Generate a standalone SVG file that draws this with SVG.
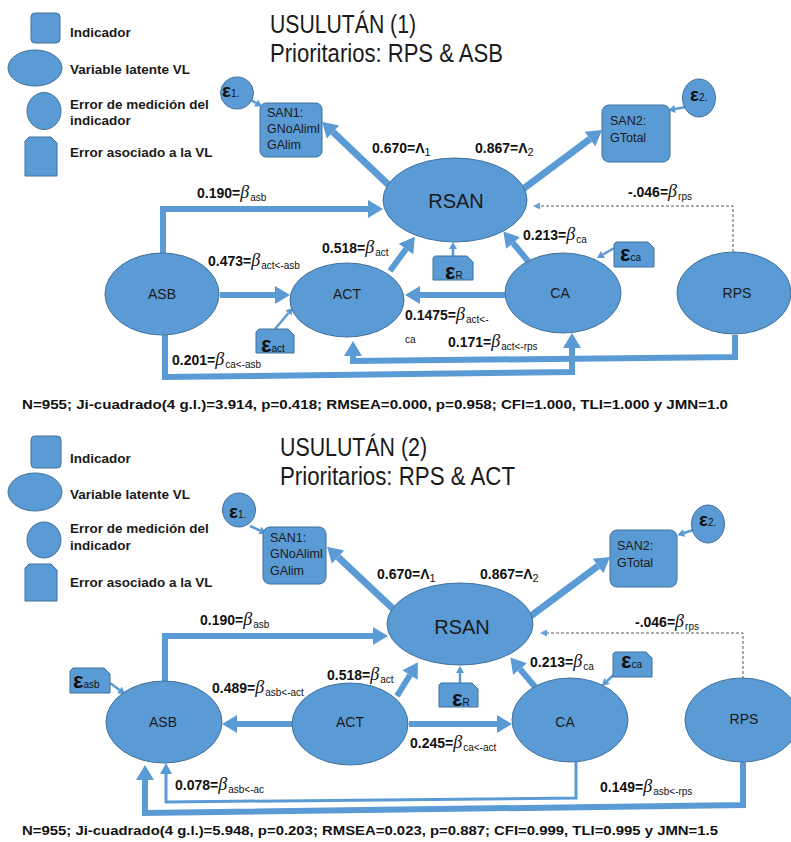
<svg xmlns="http://www.w3.org/2000/svg" width="791" height="842" viewBox="0 0 791 842">
<style>
  .nd{fill:#5B9BD5;stroke:#41719C;stroke-width:1}
  .ln{fill:none;stroke:#5B9BD5;stroke-width:6;stroke-linejoin:miter}
  .lw{fill:none;stroke:#5B9BD5;stroke-width:7}
  .lm{fill:none;stroke:#5B9BD5;stroke-width:3}
  .ls{fill:none;stroke:#5B9BD5;stroke-width:2.5}
  .ld{fill:none;stroke:#595959;stroke-width:1;stroke-dasharray:3 2}
  .tt{font-family:"Liberation Sans",Arial,sans-serif;font-size:25px;fill:#1a1a1a}
  .lg{font-family:"Liberation Sans",Arial,sans-serif;font-size:13.5px;font-weight:bold;fill:#1a1a1a}
  .lab{font-family:"Liberation Sans",Arial,sans-serif;font-size:14px;font-weight:bold;fill:#111}
  .bt{font-family:"Liberation Serif","Times New Roman",serif;font-size:18px;font-style:italic;font-weight:normal}
  .sb{font-size:10px;font-weight:normal}
  .sl{font-size:11px;font-weight:normal}
  .bx{font-family:"Liberation Sans",Arial,sans-serif;font-size:12.5px;fill:#1a1a1a}
  .nm{font-family:"Liberation Sans",Arial,sans-serif;font-size:14px;fill:#1a1a1a;text-anchor:middle}
  .big{font-family:"Liberation Sans",Arial,sans-serif;font-size:20px;fill:#1a1a1a;text-anchor:middle}
  .ep{font-family:"Liberation Sans",Arial,sans-serif;font-size:22px;font-weight:bold;fill:#111}
  .ec{font-family:"Liberation Sans",Arial,sans-serif;font-size:19px;font-weight:bold;fill:#111}
  .es{font-size:10px;font-weight:normal}
  .ft{font-family:"Liberation Sans",Arial,sans-serif;font-size:13.5px;font-weight:bold;fill:#111}
</style>
<defs>
  <marker id="ah" markerUnits="userSpaceOnUse" markerWidth="18" markerHeight="22" viewBox="0 -11 18 22" refX="0" refY="0" orient="auto" overflow="visible">
    <path d="M0,-9 L15,0 L0,9 z" fill="#5B9BD5"/>
  </marker>
  <marker id="am" markerUnits="userSpaceOnUse" markerWidth="14" markerHeight="16" viewBox="0 -8 14 16" refX="0" refY="0" orient="auto" overflow="visible">
    <path d="M0,-6 L11,0 L0,6 z" fill="#5B9BD5"/>
  </marker>
  <marker id="as" markerUnits="userSpaceOnUse" markerWidth="10" markerHeight="10" viewBox="0 -5 10 10" refX="0" refY="0" orient="auto" overflow="visible">
    <path d="M0,-4 L7,0 L0,4 z" fill="#5B9BD5"/>
  </marker>
  <marker id="ad" markerUnits="userSpaceOnUse" markerWidth="10" markerHeight="10" viewBox="0 -5 10 10" refX="0" refY="0" orient="auto" overflow="visible">
    <path d="M0,-3.5 L7,0 L0,3.5 z" fill="#6A9FD8"/>
  </marker>
</defs>
<rect width="791" height="842" fill="#fff"/>

<!-- ===== Model 1 ===== -->
<g id="legend-1">
  <rect class="nd" x="31" y="13" width="29" height="30" rx="4"/>
  <text class="lg" x="70" y="37">Indicador</text>
  <ellipse class="nd" cx="35" cy="68" rx="27" ry="18"/>
  <text class="lg" x="70" y="74">Variable latente VL</text>
  <ellipse class="nd" cx="44" cy="111" rx="17" ry="18.5"/>
  <text class="lg" x="70" y="109">Error de medición del</text>
  <text class="lg" x="70" y="125">indicador</text>
  <path class="nd" d="M25,141 L29,137 H51 L57,143 V176 H25 Z"/>
  <text class="lg" x="70" y="157">Error asociado a la VL</text>
</g>
<g id="title-1">
  <text class="tt" x="270" y="33" textLength="146" lengthAdjust="spacingAndGlyphs">USULUTÁN (1)</text>
  <text class="tt" x="270" y="62" textLength="233" lengthAdjust="spacingAndGlyphs">Prioritarios: RPS &amp; ASB</text>
</g>

<g id="connectors-1">
  <path class="ln" d="M163,253 V209 H368" marker-end="url(#ah)"/>
  <path class="ln" d="M220,295 H275" marker-end="url(#ah)"/>
  <path class="ln" d="M390,271 L406,249" marker-end="url(#ah)"/>
  <path class="ln" d="M528,261 L513,243" marker-end="url(#ah)"/>
  <path class="ln" d="M505,295 H420" marker-end="url(#ah)"/>
  <path class="lw" d="M395,191 L333,132" marker-end="url(#ah)"/>
  <path class="lw" d="M515,195 L590,139" marker-end="url(#ah)"/>
  <path class="ls" d="M247,98 L256,103" marker-end="url(#as)"/>
  <path class="ls" d="M686,107 L675,109" marker-end="url(#as)"/>
  <path class="ls" d="M453,256 V249" marker-end="url(#as)"/>
  <path class="ls" d="M275,329 L288.5,313" marker-end="url(#as)"/>
  <path class="ls" d="M616,247 L603,254.5" marker-end="url(#as)"/>
  <path class="ld" d="M733,252 V206 H540" marker-end="url(#ad)"/>
  <path class="ln" d="M165,335 V377 L572,372 V348" marker-end="url(#ah)"/>
  <path class="ln" d="M735,335 V357 L353,361 V356" marker-end="url(#ah)"/>
</g>

<g id="RSAN-1"><ellipse class="nd" cx="455" cy="200" rx="72" ry="42"/><text class="big" x="456" y="208">RSAN</text></g>
<g id="SAN1-1"><rect class="nd" x="260" y="103" width="62" height="54" rx="6"/>
  <text class="bx" x="267" y="117">SAN1:</text><text class="bx" x="267" y="133">GNoAliml</text><text class="bx" x="267" y="149">GAlim</text></g>
<g id="SAN2-1"><rect class="nd" x="602" y="105" width="68" height="57" rx="7"/>
  <text class="bx" x="610" y="125">SAN2:</text><text class="bx" x="610" y="142">GTotal</text></g>
<g id="e1-1"><ellipse class="nd" cx="237" cy="93" rx="16.5" ry="16"/><text class="ec" x="222" y="97">ε<tspan class="es">1.</tspan></text></g>
<g id="e2-1"><ellipse class="nd" cx="699" cy="98" rx="16.5" ry="19"/><text class="ec" x="690" y="101">ε<tspan class="es">2.</tspan></text></g>
<g id="ASB-1"><ellipse class="nd" cx="162" cy="294" rx="57" ry="41"/><text class="nm" x="162" y="299">ASB</text></g>
<g id="ACT-1"><ellipse class="nd" cx="347" cy="300" rx="57" ry="37"/><text class="nm" x="347" y="299">ACT</text></g>
<g id="CA-1"><ellipse class="nd" cx="563" cy="293" rx="58" ry="40"/><text class="nm" x="560" y="298">CA</text></g>
<g id="RPS-1"><ellipse class="nd" cx="734" cy="293" rx="57" ry="41"/><text class="nm" x="737" y="298">RPS</text></g>
<g id="eR-1"><path class="nd" d="M433,258 L435,256 H467 L473,262 V280 H433 Z"/><text class="ep" x="445" y="279">ε<tspan class="es">R</tspan></text></g>
<g id="eact-1"><path class="nd" d="M256,332 L259,329 H288 L294,335 V353 H256 Z"/><text class="ep" x="261" y="352">ε<tspan class="es">act</tspan></text></g>
<g id="eca-1"><path class="nd" d="M614,244 L616,242 H648 L654,248 V267 H614 Z"/><text class="ep" x="620" y="261">ε<tspan class="es">ca</tspan></text></g>

<g id="labels-1">
  <text class="lab" x="372" y="153">0.670=Λ<tspan class="sl" dy="3">1</tspan></text>
  <text class="lab" x="475" y="153">0.867=Λ<tspan class="sl" dy="3">2</tspan></text>
  <text class="lab" x="197" y="198">0.190=<tspan class="bt">β</tspan><tspan class="sb" dy="3" dx="1">asb</tspan></text>
  <text class="lab" x="208" y="266">0.473=<tspan class="bt">β</tspan><tspan class="sb" dy="3" dx="1">act&lt;-asb</tspan></text>
  <text class="lab" x="322" y="253">0.518=<tspan class="bt">β</tspan><tspan class="sb" dy="3" dx="1">act</tspan></text>
  <text class="lab" x="523" y="240">0.213=<tspan class="bt">β</tspan><tspan class="sb" dy="3" dx="1">ca</tspan></text>
  <text class="lab" x="628" y="197">-.046=<tspan class="bt">β</tspan><tspan class="sb" dy="3" dx="1">rps</tspan></text>
  <text class="lab" x="405" y="320">0.1475=<tspan class="bt">β</tspan><tspan class="sb" dy="3" dx="1">act&lt;-</tspan></text>
  <text class="lab sb" x="405" y="343">ca</text>
  <text class="lab" x="448" y="347">0.171=<tspan class="bt">β</tspan><tspan class="sb" dy="3" dx="1">act&lt;-rps</tspan></text>
  <text class="lab" x="172" y="365">0.201=<tspan class="bt">β</tspan><tspan class="sb" dy="3" dx="1">ca&lt;-asb</tspan></text>
</g>
<text class="ft" x="22" y="409" textLength="706" lengthAdjust="spacingAndGlyphs">N=955; Ji-cuadrado(4 g.l.)=3.914, p=0.418; RMSEA=0.000, p=0.958; CFI=1.000, TLI=1.000 y JMN=1.0</text>

<!-- ===== Model 2 ===== -->
<g id="legend-2">
  <rect class="nd" x="31" y="436" width="30" height="32" rx="4"/>
  <text class="lg" x="70" y="463">Indicador</text>
  <ellipse class="nd" cx="35" cy="492" rx="27" ry="19"/>
  <text class="lg" x="70" y="499">Variable latente VL</text>
  <ellipse class="nd" cx="44" cy="540" rx="17" ry="18"/>
  <text class="lg" x="70" y="533">Error de medición del</text>
  <text class="lg" x="70" y="550">indicador</text>
  <path class="nd" d="M25,568 L29,564 H51 L57,570 V601 H25 Z"/>
  <text class="lg" x="70" y="587">Error asociado a la VL</text>
</g>
<g id="title-2">
  <text class="tt" x="280" y="456" textLength="147" lengthAdjust="spacingAndGlyphs">USULUTÁN (2)</text>
  <text class="tt" x="280" y="485" textLength="235" lengthAdjust="spacingAndGlyphs">Prioritarios: RPS &amp; ACT</text>
</g>

<g id="connectors-2">
  <path class="lw" d="M405,620 L338,557" marker-end="url(#ah)"/>
  <path class="lw" d="M520,624 L598,566" marker-end="url(#ah)"/>
  <path class="ls" d="M250,526 L260,530.5" marker-end="url(#as)"/>
  <path class="ls" d="M693,530 L684,533" marker-end="url(#as)"/>
  <path class="ln" d="M165,682 V636 H373" marker-end="url(#ah)"/>
  <path class="ln" d="M292,724 H237" marker-end="url(#ah)"/>
  <path class="ln" d="M397,696 L410,675" marker-end="url(#ah)"/>
  <path class="ln" d="M409,724 H497" marker-end="url(#ah)"/>
  <path class="ln" d="M536,688 L520,669" marker-end="url(#ah)"/>
  <path class="ls" d="M460,683 V673" marker-end="url(#as)"/>
  <path class="ls" d="M617,672 L607,681" marker-end="url(#as)"/>
  <path class="ls" d="M110,683 L119.5,690" marker-end="url(#as)"/>
  <path class="ld" d="M743,679 V633 H547" marker-end="url(#ad)"/>
  <path class="lm" d="M576,762 V798 L166,802 V774" marker-end="url(#am)"/>
  <path class="ln" d="M743,762 V805 L145,813 V780" marker-end="url(#ah)"/>
</g>

<g id="RSAN-2"><ellipse class="nd" cx="460" cy="624" rx="73" ry="41"/><text class="big" x="462" y="634">RSAN</text></g>
<g id="SAN1-2"><rect class="nd" x="263" y="527" width="63" height="57" rx="7"/>
  <text class="bx" x="270" y="542">SAN1:</text><text class="bx" x="270" y="558">GNoAliml</text><text class="bx" x="270" y="575">GAlim</text></g>
<g id="SAN2-2"><rect class="nd" x="610" y="530" width="67" height="57" rx="7"/>
  <text class="bx" x="617" y="550">SAN2:</text><text class="bx" x="617" y="567">GTotal</text></g>
<g id="e1-2"><ellipse class="nd" cx="239" cy="510" rx="16.5" ry="17"/><text class="ec" x="229" y="518">ε<tspan class="es">1.</tspan></text></g>
<g id="e2-2"><ellipse class="nd" cx="708" cy="524" rx="16.5" ry="19"/><text class="ec" x="699" y="526">ε<tspan class="es">2.</tspan></text></g>
<g id="ASB-2"><ellipse class="nd" cx="164" cy="722" rx="58" ry="41"/><text class="nm" x="163" y="727">ASB</text></g>
<g id="ACT-2"><ellipse class="nd" cx="350" cy="724" rx="58" ry="41"/><text class="nm" x="350" y="727">ACT</text></g>
<g id="CA-2"><ellipse class="nd" cx="570" cy="720" rx="58" ry="42"/><text class="nm" x="565" y="727">CA</text></g>
<g id="RPS-2"><ellipse class="nd" cx="742" cy="720" rx="57" ry="42"/><text class="nm" x="744" y="724">RPS</text></g>
<g id="easb-2"><path class="nd" d="M70,671 L73,668 H104 L110,674 V693 H70 Z"/><text class="ep" x="73" y="688">ε<tspan class="es">asb</tspan></text></g>
<g id="eR-2"><path class="nd" d="M439,685 L441,683 H472 L478,689 V707 H439 Z"/><text class="ep" x="452" y="706">ε<tspan class="es">R</tspan></text></g>
<g id="eca-2"><path class="nd" d="M613,654 L615,652 H646 L652,658 V677 H613 Z"/><text class="ep" x="621" y="668">ε<tspan class="es">ca</tspan></text></g>

<g id="labels-2">
  <text class="lab" x="377" y="579">0.670=Λ<tspan class="sl" dy="3">1</tspan></text>
  <text class="lab" x="480" y="579">0.867=Λ<tspan class="sl" dy="3">2</tspan></text>
  <text class="lab" x="635" y="627">-.046=<tspan class="bt">β</tspan><tspan class="sb" dy="3" dx="1">rps</tspan></text>
  <text class="lab" x="200" y="625">0.190=<tspan class="bt">β</tspan><tspan class="sb" dy="3" dx="1">asb</tspan></text>
  <text class="lab" x="212" y="693">0.489=<tspan class="bt">β</tspan><tspan class="sb" dy="3" dx="1">asb&lt;-act</tspan></text>
  <text class="lab" x="327" y="680">0.518=<tspan class="bt">β</tspan><tspan class="sb" dy="3" dx="1">act</tspan></text>
  <text class="lab" x="530" y="667">0.213=<tspan class="bt">β</tspan><tspan class="sb" dy="3" dx="1">ca</tspan></text>
  <text class="lab" x="410" y="748">0.245=<tspan class="bt">β</tspan><tspan class="sb" dy="3" dx="1">ca&lt;-act</tspan></text>
  <text class="lab" x="175" y="790">0.078=<tspan class="bt">β</tspan><tspan class="sb" dy="3" dx="1">asb&lt;-ac</tspan></text>
  <text class="lab" x="600" y="792">0.149=<tspan class="bt">β</tspan><tspan class="sb" dy="3" dx="1">asb&lt;-rps</tspan></text>
</g>
<text class="ft" x="22" y="835" textLength="696" lengthAdjust="spacingAndGlyphs">N=955; Ji-cuadrado(4 g.l.)=5.948, p=0.203; RMSEA=0.023, p=0.887; CFI=0.999, TLI=0.995 y JMN=1.5</text>
</svg>
